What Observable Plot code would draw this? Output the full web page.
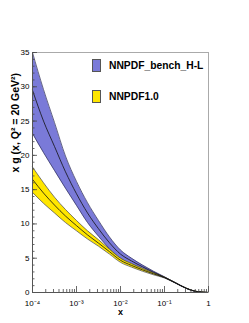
<!DOCTYPE html>
<html>
<head>
<meta charset="utf-8">
<script src="https://cdn.jsdelivr.net/npm/d3@7"></script>
<script src="https://cdn.jsdelivr.net/npm/@observablehq/plot@0.6"></script>
<style>
  body { margin: 0; background: #fff; }
  #wrap { position: relative; width: 249px; height: 323px; font-family: "Liberation Sans", Arial, sans-serif; }
  .leg { position: absolute; display: flex; align-items: center; font-weight: bold; font-size: 10.3px; color: #000; }
  .sw { width: 9px; height: 13px; border: 1px solid #555; margin-right: 8px; box-sizing: border-box; }
</style>
</head>
<body>
<div id="wrap"></div>
<script>
// x values (momentum fraction)
const xs = [1e-4, 1.78e-4, 3.16e-4, 5.62e-4, 1e-3, 1.78e-3, 3.16e-3, 5.62e-3, 1e-2, 1.78e-2, 3.16e-2, 5.62e-2, 0.1, 0.178, 0.316, 0.562, 1];
// NNPDF_bench_H-L
const blueMid = [29.5, 25.0, 21.3, 17.6, 14.4, 11.6, 9.3, 7.25, 5.6, 4.6, 3.75, 2.95, 2.22, 1.4, 0.6, 0.12, 0];
const blueHi  = [35.0, 29.6, 24.8, 19.9, 16.2, 13.1, 10.5, 8.1, 6.2, 5.0, 4.0, 3.1, 2.28, 1.43, 0.62, 0.13, 0];
const blueLo  = [23.2, 20.4, 17.8, 15.2, 12.7, 10.2, 8.2, 6.4, 5.0, 4.2, 3.5, 2.8, 2.16, 1.37, 0.58, 0.11, 0];
// NNPDF1.0
const yelMid = [16.5, 14.5, 12.75, 11.15, 9.75, 8.4, 7.2, 5.95, 4.7, 3.95, 3.3, 2.72, 2.18, 1.4, 0.6, 0.12, 0];
const yelHi  = [18.3, 16.0, 13.9, 12.1, 10.5, 9.0, 7.7, 6.3, 5.0, 4.2, 3.5, 2.85, 2.24, 1.43, 0.62, 0.13, 0];
const yelLo  = [14.6, 13.0, 11.6, 10.2, 9.0, 7.8, 6.75, 5.6, 4.4, 3.7, 3.1, 2.58, 2.12, 1.37, 0.58, 0.11, 0];

const seriesNames = ["NNPDF_bench_H-L", "NNPDF1.0"];
const seriesColors = ["#7a7ad8", "#ffe600"];

const yMajor = [0, 5, 10, 15, 20, 25, 30, 35];
const xMajor = [1e-4, 1e-3, 1e-2, 1e-1, 1];
const xLabels = ["10\u207B\u2074", "10\u207B\u00B3", "10\u207B\u00B2", "10\u207B\u00B9", "1"];
const xTitle = "x";
const yTitle = "x g (x, Q\u00B2 = 20 GeV\u00B2)";

const yMinor = d3.range(0, 36, 1);
const xMinor = [];
for (let e = -4; e < 0; e++) for (let k = 2; k <= 9; k++) xMinor.push(k * Math.pow(10, e));

const blue = xs.map((x, i) => ({x, mid: blueMid[i], hi: blueHi[i], lo: blueLo[i]}));
const yel = xs.map((x, i) => ({x, mid: yelMid[i], hi: yelHi[i], lo: yelLo[i]}));

const W = 249, H = 323, mL = 32, mR = 41, mT = 52, mB = 31;
const pw = W - mL - mR, ph = H - mT - mB;
const curve = "monotone-x";

const chart = Plot.plot({
  width: W, height: H,
  marginLeft: mL, marginRight: mR, marginTop: mT, marginBottom: mB,
  x: {type: "log", domain: [1e-4, 1], axis: null},
  y: {domain: [0, 35], axis: null},
  style: {fontFamily: "'Liberation Sans', Arial, sans-serif", background: "#fff", overflow: "visible"},
  marks: [
    Plot.areaY(blue, {x: "x", y1: "lo", y2: "hi", fill: seriesColors[0], curve}),
    Plot.lineY(blue, {x: "x", y: "hi", stroke: "#2a2a55", strokeWidth: 0.7, curve}),
    Plot.lineY(blue, {x: "x", y: "lo", stroke: "#2a2a55", strokeWidth: 0.7, curve}),
    Plot.areaY(yel, {x: "x", y1: "lo", y2: "hi", fill: seriesColors[1], curve}),
    Plot.lineY(yel, {x: "x", y: "hi", stroke: "#444", strokeWidth: 0.7, curve}),
    Plot.lineY(yel, {x: "x", y: "lo", stroke: "#444", strokeWidth: 0.7, curve}),
    Plot.lineY(blue, {x: "x", y: "mid", stroke: "#111", strokeWidth: 0.8, curve}),
    Plot.lineY(yel, {x: "x", y: "mid", stroke: "#111", strokeWidth: 0.8, curve}),
    Plot.frame({stroke: "#aaa"}),
    Plot.ruleX(xMinor, {x: d => d, insetTop: ph - 3, stroke: "#444", strokeWidth: 0.8}),
    Plot.ruleX(xMajor, {x: d => d, insetTop: ph - 6, stroke: "#444", strokeWidth: 0.8}),
    Plot.ruleY(yMinor, {y: d => d, insetRight: pw - 2.5, stroke: "#444", strokeWidth: 0.8}),
    Plot.ruleY(yMajor, {y: d => d, insetRight: pw - 5, stroke: "#444", strokeWidth: 0.8}),
    Plot.ruleX([1e-4], {stroke: "#555"}),
    Plot.ruleY([0], {stroke: "#555"}),
    Plot.text(yMajor, {y: d => d, frameAnchor: "left", dx: -3, textAnchor: "end", fontSize: 8, text: d => String(d)}),
    Plot.text(xMajor, {x: d => d, frameAnchor: "bottom", dy: 13, fontSize: 8, text: (d, i) => xLabels[i]}),
    Plot.text([xTitle], {frameAnchor: "bottom", dy: 22, fontSize: 9, fontWeight: "bold", text: d => d}),
    Plot.text([yTitle], {frameAnchor: "left", dx: -17, rotate: -90, fontSize: 10.5, fontWeight: "bold", text: d => d})
  ]
});

const wrap = document.getElementById("wrap");
wrap.appendChild(chart);
const legTops = [59, 90];
seriesNames.forEach((name, i) => {
  const row = document.createElement("div");
  row.className = "leg";
  row.style.left = "92px";
  row.style.top = legTops[i] + "px";
  const sw = document.createElement("div");
  sw.className = "sw";
  sw.style.background = seriesColors[i];
  const t = document.createElement("span");
  t.textContent = name;
  row.appendChild(sw);
  row.appendChild(t);
  wrap.appendChild(row);
});
</script>
</body>
</html>
